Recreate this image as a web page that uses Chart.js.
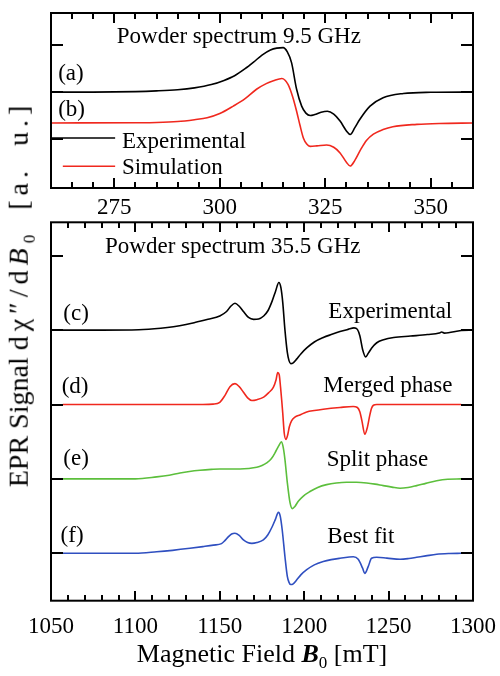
<!DOCTYPE html>
<html>
<head>
<meta charset="utf-8">
<script src="https://cdn.jsdelivr.net/npm/chart.js@4.4.0/dist/chart.umd.min.js"></script>
<style>
  body { margin: 0; background: #fff; }
  #wrap { position: relative; width: 500px; height: 676px; font-family: "Liberation Serif", "Times New Roman", serif; color: #000; }
  #c1 { position: absolute; left: 0; top: 0; }
  #c2 { position: absolute; left: 0; top: 215px; }
  #ytitle { position: absolute; left: 21px; top: 294px; transform: translate(-50%, -50%) rotate(-90deg); white-space: nowrap; font-size: 28px; }
  #ytitle .sp { letter-spacing: 5px; word-spacing: 8px; }
  #xtitle { position: absolute; left: 262px; top: 656px; transform: translate(-50%, -50%); white-space: nowrap; font-size: 26px; }
  sub { font-size: 17px; }
</style>
</head>
<body>
<div id="wrap">
  <canvas id="c1" width="500" height="215"></canvas>
  <canvas id="c2" width="500" height="461"></canvas>
  <div id="ytitle">EPR Signal <span class="sp">d&chi;&Prime;/d<i>B</i><sub>0</sub> [a. u.]</span></div>
  <div id="xtitle">Magnetic Field <b><i>B</i></b><sub>0</sub> [mT]</div>
</div>
<script>
// 9.5 GHz powder spectrum
var fieldA = [260, 270, 280, 285, 290, 294, 298, 301, 303.5, 306, 308, 310, 312, 313.5, 315, 316, 317, 318.2, 319.4, 320.4, 321.4, 322.5, 324, 325.5, 327, 328.5, 330, 330.9, 332, 333.2, 335.6, 338.7, 343.5, 350, 360];
var sigA = [0, 0, 0.01, 0.025, 0.05, 0.09, 0.16, 0.25, 0.35, 0.5, 0.64, 0.79, 0.9, 0.94, 0.95, 0.86, 0.63, 0.06, -0.3, -0.45, -0.5, -0.48, -0.43, -0.41, -0.47, -0.62, -0.83, -0.906, -0.76, -0.58, -0.3, -0.12, -0.03, -0.005, 0];
var fieldB = [260, 280, 285, 290, 294, 297, 300, 303.2, 306, 308.7, 311, 312.7, 314.7, 316.2, 317.3, 318.2, 319, 319.8, 320.6, 321.4, 323, 325.3, 327, 328.5, 330, 330.9, 332, 333.5, 334.8, 336.4, 338.7, 341, 346.7, 352, 360];
var sigB = [0, 0.005, 0.01, 0.03, 0.07, 0.11, 0.2, 0.36, 0.52, 0.72, 0.84, 0.9, 0.95, 0.82, 0.55, 0.25, -0.05, -0.32, -0.45, -0.5, -0.49, -0.47, -0.52, -0.64, -0.84, -0.92, -0.8, -0.55, -0.37, -0.24, -0.14, -0.08, -0.03, -0.01, 0];

// 35.5 GHz powder spectrum
var fieldC = [1050, 1080, 1102, 1115, 1122.5, 1130, 1136.3, 1143, 1150, 1154, 1156.5, 1159, 1161.5, 1164, 1167, 1170, 1173, 1176, 1178.5, 1181, 1183, 1185, 1186.2, 1187.3, 1188.6, 1190, 1191, 1192, 1193.5, 1195.5, 1198, 1201.5, 1206, 1211.3, 1216, 1221.2, 1226, 1229.5, 1231.5, 1233, 1234.6, 1236.4, 1238, 1240, 1243, 1247, 1253, 1263, 1273, 1280, 1281.4, 1283, 1293, 1300];
var sigC = [0, 0, 0.005, 0.025, 0.045, 0.075, 0.108, 0.145, 0.19, 0.25, 0.32, 0.36, 0.32, 0.25, 0.17, 0.144, 0.15, 0.19, 0.26, 0.39, 0.52, 0.64, 0.57, 0.37, 0, -0.3, -0.41, -0.45, -0.44, -0.39, -0.32, -0.24, -0.16, -0.1, -0.06, -0.02, 0.01, 0.03, 0.01, -0.08, -0.26, -0.36, -0.31, -0.24, -0.17, -0.13, -0.1, -0.08, -0.06, -0.04, -0.025, -0.04, -0.005, 0];
var fieldD = [1057, 1140, 1146, 1150, 1153, 1156, 1159, 1161.5, 1164, 1166.5, 1169, 1172, 1176, 1179, 1181.7, 1183.3, 1184.3, 1185.2, 1186, 1186.7, 1187.3, 1188.2, 1189.2, 1190.2, 1191.2, 1192.5, 1194.5, 1197.5, 1201.5, 1206, 1211.3, 1221.2, 1229, 1231.5, 1233, 1234.2, 1235.9, 1237.5, 1238.8, 1239.9, 1241, 1243, 1293];
var sigD = [0, 0, 0.005, 0.03, 0.12, 0.24, 0.28, 0.24, 0.166, 0.09, 0.054, 0.065, 0.1, 0.16, 0.23, 0.33, 0.43, 0.4, 0.23, 0.05, -0.12, -0.39, -0.47, -0.41, -0.3, -0.22, -0.17, -0.14, -0.1, -0.08, -0.063, -0.04, -0.027, -0.04, -0.1, -0.22, -0.4, -0.3, -0.15, -0.05, -0.01, 0, 0];
var fieldE = [1057, 1100, 1112.6, 1120, 1126.4, 1132, 1138.3, 1145, 1150, 1156, 1162, 1167, 1171.9, 1175, 1177.8, 1180.5, 1182.7, 1184.8, 1186.6, 1187.6, 1188.6, 1190, 1191.6, 1193, 1194.5, 1196.5, 1199.5, 1203.4, 1208, 1213.3, 1219, 1225.1, 1231, 1237, 1242, 1246.8, 1252, 1256.8, 1261.5, 1266.6, 1272, 1278.5, 1285, 1293];
var sigE = [0, 0, 0.027, 0.05, 0.08, 0.1, 0.116, 0.128, 0.134, 0.134, 0.134, 0.14, 0.156, 0.18, 0.215, 0.27, 0.35, 0.44, 0.5, 0.42, 0.26, -0.05, -0.32, -0.4, -0.37, -0.3, -0.23, -0.17, -0.115, -0.077, -0.055, -0.045, -0.045, -0.054, -0.07, -0.09, -0.11, -0.126, -0.115, -0.09, -0.06, -0.025, -0.005, 0];
var fieldF = [1057, 1100, 1112.6, 1122, 1132.3, 1140, 1146.2, 1151, 1153, 1155, 1157, 1159, 1161.5, 1164, 1166.5, 1169, 1172, 1175.8, 1178.5, 1181.1, 1183, 1184.7, 1185.8, 1187, 1188.6, 1190, 1191, 1192, 1193.5, 1195.5, 1198, 1201.5, 1206, 1211.3, 1216, 1221.2, 1229.1, 1232, 1234.6, 1235.9, 1237.9, 1239.9, 1242.9, 1249, 1256.8, 1262, 1266.6, 1272, 1278.5, 1286, 1293];
var sigF = [0, 0, 0.02, 0.04, 0.067, 0.09, 0.11, 0.13, 0.17, 0.22, 0.26, 0.27, 0.24, 0.18, 0.145, 0.134, 0.145, 0.18, 0.25, 0.36, 0.46, 0.55, 0.5, 0.31, -0.046, -0.31, -0.39, -0.42, -0.41, -0.36, -0.29, -0.22, -0.155, -0.11, -0.085, -0.067, -0.046, -0.08, -0.2, -0.27, -0.18, -0.067, -0.054, -0.065, -0.08, -0.07, -0.054, -0.035, -0.013, -0.003, 0];

// axis ticks
var topXLabels = [275, 300, 325, 350];
var bottomXLabels = [1050, 1100, 1150, 1200, 1250, 1300];
var topYTicks = [0, 1, 2];
var bottomYTicks = [0, 1, 2, 3, 4];

var FONT = '"Liberation Serif", "Times New Roman", serif';

function pts(xs, ys, off) {
    return xs.map(function(x, i) { return { x: x, y: ys[i] + off }; });
}

function line(data, color) {
    return {
        data: data,
        borderColor: color,
        borderWidth: 1.6,
        pointRadius: 0,
        fill: false,
        cubicInterpolationMode: 'monotone'
    };
}

// frame with inward ticks, in-plot labels and key lines
function makeFrame(cfg) {
    return {
        id: 'frame',
        afterDraw: function(chart) {
            var ctx = chart.ctx, a = chart.chartArea;
            var xs = chart.scales.x, ys = chart.scales.y;
            var top = Math.round(a.top), bottom = Math.round(a.bottom);
            var n = Math.round((cfg.xmax - cfg.xmin) / cfg.step);
            ctx.save();
            ctx.fillStyle = '#000000';
            for (var i = 0; i <= n; i++) {
                var v = cfg.xmin + i * cfg.step;
                var px = Math.round(xs.getPixelForValue(v));
                var len = cfg.labels.indexOf(v) >= 0 ? 10 : 6;
                ctx.fillRect(px - 1, bottom - len, 2, len);
                ctx.fillRect(px - 1, top, 2, len);
            }
            cfg.yTicks.forEach(function(t) {
                var py = Math.round(ys.getPixelForValue(t));
                ctx.fillRect(a.left, py - 1, 12, 2);
                ctx.fillRect(a.right - 12, py - 1, 12, 2);
            });
            ctx.strokeStyle = '#000000';
            ctx.lineWidth = 2;
            ctx.strokeRect(a.left, a.top, a.right - a.left, a.bottom - a.top);

            cfg.keys.forEach(function(k) {
                ctx.strokeStyle = k.color;
                ctx.lineWidth = 1.6;
                ctx.beginPath();
                ctx.moveTo(xs.getPixelForValue(k.x0), ys.getPixelForValue(k.y));
                ctx.lineTo(xs.getPixelForValue(k.x1), ys.getPixelForValue(k.y));
                ctx.stroke();
            });

            ctx.font = '23px ' + FONT;
            ctx.textAlign = 'left';
            ctx.textBaseline = 'alphabetic';
            cfg.texts.forEach(function(t) {
                ctx.fillText(t.text, xs.getPixelForValue(t.x), ys.getPixelForValue(t.y));
            });
            ctx.restore();
        }
    };
}

function makeOptions(cfg) {
    return {
        responsive: false,
        animation: false,
        devicePixelRatio: 1,
        layout: { padding: { top: cfg.padTop, right: 27, left: 0, bottom: 0 } },
        plugins: {
            legend: { display: false },
            tooltip: { enabled: false }
        },
        scales: {
            x: {
                type: 'linear',
                min: cfg.xmin,
                max: cfg.xmax,
                grid: { display: false, drawTicks: false },
                border: { display: false },
                afterBuildTicks: function(s) {
                    s.ticks = cfg.labels.map(function(v) { return { value: v }; });
                },
                afterFit: function(s) {
                    s.height = cfg.xHeight;
                    s.paddingLeft = 0;
                    s.paddingRight = 0;
                },
                ticks: {
                    autoSkip: false,
                    maxRotation: 0,
                    padding: cfg.tickPad,
                    color: '#000',
                    font: { family: FONT, size: 23 },
                    callback: function(v) { return String(v); }
                }
            },
            y: {
                min: cfg.ymin,
                max: cfg.ymax,
                grid: { display: false, drawTicks: false },
                border: { display: false },
                ticks: { display: false },
                afterFit: function(s) { s.width = 51; }
            }
        }
    };
}

var topCfg = {
    xmin: 260, xmax: 360, step: 5, labels: topXLabels,
    ymin: -1.05, ymax: 2.69, yTicks: topYTicks,
    padTop: 13, xHeight: 27, tickPad: 6,
    texts: [
        { text: 'Powder spectrum 9.5 GHz', x: 275.6, y: 2.056 },
        { text: '(a)', x: 261.7, y: 1.26 },
        { text: '(b)', x: 261.7, y: 0.486 },
        { text: 'Experimental', x: 276.8, y: -0.19 },
        { text: 'Simulation', x: 276.8, y: -0.76 }
    ],
    keys: [
        { x0: 260.2, x1: 275.2, y: 0.02, color: '#000000' },
        { x0: 262.8, x1: 275.2, y: -0.585, color: '#f0281e' }
    ]
};

var bottomCfg = {
    xmin: 1050, xmax: 1300, step: 10, labels: bottomXLabels,
    ymin: -0.637, ymax: 4.449, yTicks: bottomYTicks,
    padTop: 7.3, xHeight: 75.3, tickPad: 12,
    texts: [
        { text: 'Powder spectrum 35.5 GHz', x: 1082, y: 4.03 },
        { text: '(c)', x: 1057.3, y: 3.13 },
        { text: 'Experimental', x: 1214.3, y: 3.16 },
        { text: '(d)', x: 1056.3, y: 2.15 },
        { text: 'Merged phase', x: 1211.3, y: 2.17 },
        { text: '(e)', x: 1057.3, y: 1.19 },
        { text: 'Split phase', x: 1213.3, y: 1.17 },
        { text: '(f)', x: 1055.7, y: 0.156 },
        { text: 'Best fit', x: 1213.7, y: 0.134 }
    ],
    keys: []
};

new Chart(document.getElementById('c1').getContext('2d'), {
    type: 'line',
    data: {
        datasets: [
            line(pts(fieldA, sigA, 1), '#000000'),
            line(pts(fieldB, sigB, 0.34), '#f0281e')
        ]
    },
    options: makeOptions(topCfg),
    plugins: [makeFrame(topCfg)]
});

new Chart(document.getElementById('c2').getContext('2d'), {
    type: 'line',
    data: {
        datasets: [
            line(pts(fieldC, sigC, 3), '#000000'),
            line(pts(fieldD, sigD, 2), '#f0281e'),
            line(pts(fieldE, sigE, 1), '#5cbf3c'),
            line(pts(fieldF, sigF, 0), '#2f4fc0')
        ]
    },
    options: makeOptions(bottomCfg),
    plugins: [makeFrame(bottomCfg)]
});
</script>
</body>
</html>
